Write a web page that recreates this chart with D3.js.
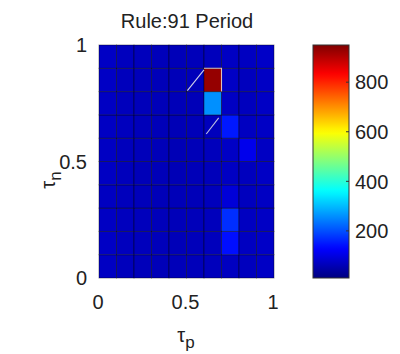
<!DOCTYPE html>
<html><head><meta charset="utf-8">
<script src="https://cdn.jsdelivr.net/npm/d3@7"></script>
<style>body{margin:0;background:#fff}svg{display:block}text{font-family:"Liberation Sans",Arial,sans-serif;fill:#222}</style>
</head><body><svg id="c" width="400" height="354"></svg>
<script>
const title = "Rule:91 Period";
const tauP = [0,0.1,0.2,0.3,0.4,0.5,0.6,0.7,0.8,0.9];
const tauN = [0,0.1,0.2,0.3,0.4,0.5,0.6,0.7,0.8,0.9];
// rows indexed by tauN (bottom to top), columns by tauP
const row0 = [72,66,64,62,63,64,66,70,68,74];
const row1 = [74,68,66,64,62,64,66,140,70,76];
const row2 = [72,68,66,64,63,64,66,170,70,74];
const row3 = [70,66,64,62,62,62,66,92,68,72];
const row4 = [72,66,62,62,60,62,64,72,68,74];
const row5 = [72,66,64,62,60,62,66,74,110,72];
const row6 = [72,68,64,62,60,62,66,150,70,74];
const row7 = [72,66,64,62,62,62,260,72,68,74];
const row8 = [74,66,64,62,62,64,930,74,68,74];
const row9 = [74,68,66,64,62,64,66,72,70,76];
const periodRows = [row0,row1,row2,row3,row4,row5,row6,row7,row8,row9];
const axisTicks = [0,0.5,1];
const colorTicks = [200,400,600,800];
const colorDomain = [10,950];
const guide1 = [[0.505,0.804],[0.6,0.893]];
const guide2 = [[0.613,0.618],[0.684,0.687]];

const svg = d3.select("#c");
const x = d3.scaleLinear().domain([0,1]).range([99,274]);
const y = d3.scaleLinear().domain([0,1]).range([278,45]);
const clamp = v => Math.max(0, Math.min(1, v));
const jet = t => d3.rgb(255*clamp(1.5-Math.abs(4*t-3)), 255*clamp(1.5-Math.abs(4*t-2)), 255*clamp(1.5-Math.abs(4*t-1))).toString();
const cnorm = d3.scaleLinear().domain(colorDomain).range([0,1]).clamp(true);
const color = v => jet(cnorm(v));

const cells = [];
periodRows.forEach((r,i)=>r.forEach((v,j)=>cells.push({p:tauP[j],n:tauN[i],v})));
const step = 0.1;
svg.append("g").selectAll("rect").data(cells).join("rect")
  .attr("x", d=>x(d.p)).attr("y", d=>y(d.n+step))
  .attr("width", d=>x(d.p+step)-x(d.p)).attr("height", d=>y(d.n)-y(d.n+step))
  .attr("fill", d=>color(d.v))
  .attr("stroke","#000").attr("stroke-opacity",0.4).attr("stroke-width",1);

// light annotation strokes
const line = d3.line().x(d=>x(d[0])).y(d=>y(d[1]));
svg.append("path").attr("d", line(guide1)).attr("stroke","#d0d0e8").attr("stroke-width",1.1).attr("fill","none");
svg.append("path").attr("d", line(guide2)).attr("stroke","#c0c0e0").attr("stroke-width",1.1).attr("fill","none");
svg.append("path").attr("d", line([[0.6,0.9],[0.7,0.9],[0.7,0.8]])).attr("stroke","#e0c0b8").attr("stroke-width",1.1).attr("fill","none");

// axis labels
svg.append("g").selectAll("text").data(axisTicks).join("text")
  .attr("x", 87).attr("y", d=>y(d)).attr("dy","0.36em").attr("text-anchor","end")
  .attr("font-size",20).text(d=>d3.format("~g")(d));
svg.append("g").selectAll("text").data(axisTicks).join("text")
  .attr("x", d=>x(d)-1).attr("y", 302).attr("dy","0.36em").attr("text-anchor","middle")
  .attr("font-size",20).text(d=>d3.format("~g")(d));

svg.append("text").attr("x",187).attr("y",28).attr("text-anchor","middle").attr("font-size",20).text(title);

// x label tau_p
const xl = svg.append("text").attr("x",186).attr("y",342).attr("text-anchor","middle").attr("font-size",20);
xl.append("tspan").text("τ");
xl.append("tspan").attr("font-size",17).attr("dy",6).text("p");
// y label tau_n
const yl = svg.append("text").attr("transform","translate(55,180) rotate(-90)").attr("text-anchor","middle").attr("font-size",20);
yl.append("tspan").text("τ");
yl.append("tspan").attr("font-size",17).attr("dy",6).text("n");

// colorbar
const cb = d3.scaleLinear().domain(colorDomain).range([278,45]);
const defs = svg.append("defs");
const grad = defs.append("linearGradient").attr("id","jetg").attr("x1",0).attr("y1",1).attr("x2",0).attr("y2",0);
d3.range(0,1.0001,0.02).forEach(t=>grad.append("stop").attr("offset",t).attr("stop-color",jet(t)));
svg.append("rect").attr("x",313).attr("y",45).attr("width",36).attr("height",233)
  .attr("fill","url(#jetg)").attr("stroke","#333").attr("stroke-width",1);
svg.append("g").selectAll("line").data(colorTicks).join("line")
  .attr("x1",346).attr("x2",349).attr("y1",d=>cb(d)).attr("y2",d=>cb(d)).attr("stroke","#333");
svg.append("g").selectAll("text").data(colorTicks).join("text")
  .attr("x",355).attr("y",d=>cb(d)).attr("dy","0.36em").attr("font-size",20).text(d=>d);
</script></body></html>
